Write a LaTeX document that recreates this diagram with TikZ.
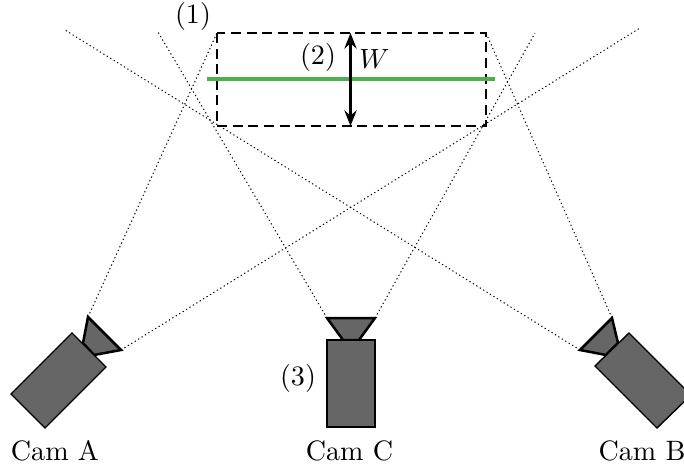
\documentclass[tikz,border=0pt]{standalone}
\usetikzlibrary{arrows.meta}
\definecolor{camgray}{HTML}{666666}
\definecolor{beam}{HTML}{4CAF50}
\tikzset{
  x=0.36pt,y=-0.36pt,
  body/.style={draw=black,fill=camgray,line width=0.5pt,line join=miter},
  cone/.style={draw=black,fill=camgray,line width=0.9pt,line join=miter},
  fov/.style={draw=black,line width=0.36pt,dash pattern=on 0.45pt off 1pt},
  vol/.style={draw=black,line width=0.5pt,dash pattern=on 3.6pt off 2pt},
  lab/.style={inner sep=0pt,anchor=center,font=\fontsize{10.1}{12}\selectfont}
}
\begin{document}
\begin{tikzpicture}
\clip (0,0) rectangle (684,468);
\useasboundingbox (0,0) rectangle (684,468);
% field-of-view ends
\coordinate (a1) at (88,317); \coordinate (a2) at (121,350);
\coordinate (c1) at (327,318); \coordinate (c2) at (375,318);
\coordinate (b1) at (612,318); \coordinate (b2) at (580,350);
\coordinate (v1) at (217,33); \coordinate (v2) at (486,33);
\coordinate (ea) at (640,28); \coordinate (eb) at (65,30);
\coordinate (ec1) at (158,32); \coordinate (ec2) at (535,33);
\coordinate (wt) at (350.5,33); \coordinate (wb) at (350.5,126);
\coordinate (gl) at (207,79); \coordinate (gr) at (495,79);
\draw[fov] (a1) -- (v1);
\draw[fov] (a2) -- (ea);
\draw[fov] (c1) -- (ec1);
\draw[fov] (c2) -- (ec2);
\draw[fov] (b1) -- (v2);
\draw[fov] (b2) -- (eb);
% capture volume
\draw[vol] (217,33) rectangle (486,126);
\draw[beam,line width=1.6pt] (gl) -- (gr);
\draw[black,line width=0.8pt,{Stealth[length=5.6pt,width=4.4pt]}-{Stealth[length=5.6pt,width=4.4pt]}] (wt) -- (wb);
% cameras
\draw[cone] (a1) -- (a2) -- (94,355) -- (83,343) -- cycle;
\draw[body] (72,333) -- (106,367) -- (45,428) -- (11,394) -- cycle;
\draw[cone] (c1) -- (c2) -- (359,340) -- (343,340) -- cycle;
\draw[body] (327,340) rectangle (375,427);
\draw[cone] (b1) -- (b2) -- (606,355) -- (618,343) -- cycle;
\draw[body] (629,333) -- (595,366) -- (657,428) -- (691,395) -- cycle;
% labels
\node[lab] (camA) at (55,451) {Cam A};
\node[lab] (camC) at (349.5,451) {Cam C};
\node[lab] (camB) at (642,451) {Cam B};
\node[lab] (l1) at (193,16) {(1)};
\node[lab] (l2) at (318,57) {(2)};
\node[lab] (l3) at (298,378) {(3)};
\node[lab] (w) at (374.5,59) {$W$};
\end{tikzpicture}
\end{document}
